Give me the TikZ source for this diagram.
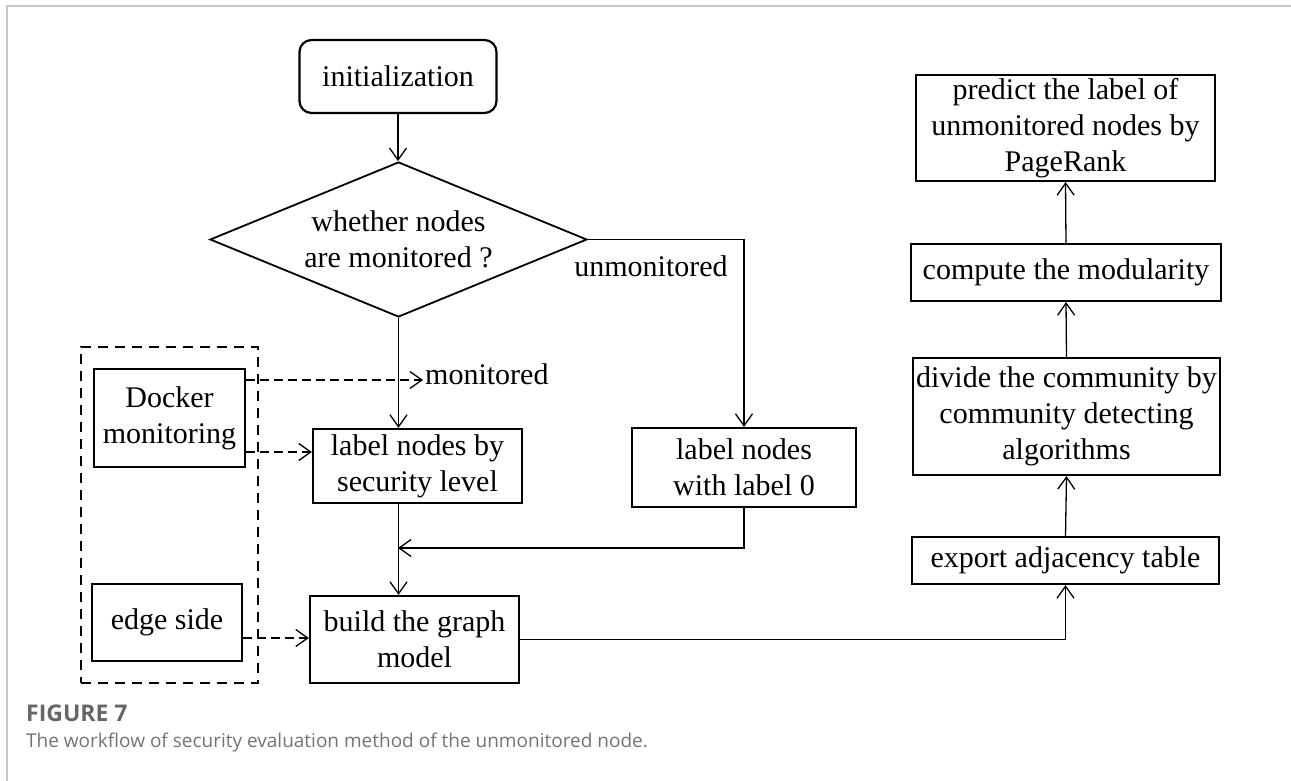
\documentclass[tikz,border=0pt]{standalone}
\usepackage{fontspec}
\setmainfont{Liberation Serif}
\newfontfamily\capfont{Open Sans}
\usetikzlibrary{arrows.meta,shapes.geometric}

\begin{document}
\begin{tikzpicture}[x=1pt,y=-1pt,
  txt/.style={font=\fontsize{30}{36}\selectfont, align=center},
  box/.style={txt, draw, line width=2.2pt, inner sep=1pt},
  flow/.style={line width=1.3pt, -{Straight Barb[length=12pt,width=17pt,line width=1.3pt]}},
  dflow/.style={flow, dash pattern=on 9pt off 5pt},
  grp/.style={draw, line width=2.4pt, dash pattern=on 10pt off 7pt, inner sep=0pt},
  frame/.style={draw=black!22, line width=2pt}
]
\useasboundingbox (0,0) rectangle (1291,781);
\draw[frame] (1291,6) -- (7,6) -- (7,781);

% left-hand flow
\node[box, rounded corners=12pt, minimum width=197pt, minimum height=73pt] (init) at (398,76.5) {initialization};
\node[txt, draw, diamond, aspect=2.43, line width=1.8pt, inner sep=0pt,
      minimum width=377pt, minimum height=155pt] (dec) at (398.5,239.5) {whether nodes\\are monitored ?};
\node[box, minimum width=209pt, minimum height=74pt] (sec) at (417.5,466) {label nodes by\\security level};
\node[box, minimum width=224pt, minimum height=79pt] (lab0) at (744,467.5) {label nodes\\with label 0};
\node[box, minimum width=209pt, minimum height=87pt] (build) at (414.5,639.5) {build the graph\\model};

% data sources
\node[grp, minimum width=177pt, minimum height=336pt] (grp) at (169.5,515) {};
\node[box, minimum width=151pt, minimum height=98pt] (docker) at (169.5,418) {Docker\\monitoring};
\node[box, minimum width=150pt, minimum height=77pt] (edge) at (167,622.5) {edge side};

% right-hand flow
\node[box, minimum width=307pt, minimum height=47pt] (export) at (1065.5,560.5) {export adjacency table};
\node[box, minimum width=307pt, minimum height=117pt] (divide) at (1066.5,416.5) {divide the community by\\community detecting\\algorithms};
\node[box, minimum width=310pt, minimum height=57pt] (compute) at (1066,272.5) {compute the modularity};
\node[box, minimum width=299pt, minimum height=106pt] (predict) at (1065.5,128) {predict the label of\\unmonitored nodes by\\PageRank};

% branch labels
\node[txt, inner sep=0pt] (unmon) at (651,266) {unmonitored};
\coordinate (montip) at (423,380);
\node[txt, inner sep=0pt, anchor=west] (montext) at (425,374) {monitored};
\coordinate (join) at (398,548);

% connectors
\draw[flow] (init.south) -- (init.south |- dec.north);
\draw[flow] (dec.south) -- (dec.south |- sec.north);
\draw[flow] (dec.east) -| (lab0.north);
\draw[flow] (dec.south |- sec.south) -- (dec.south |- build.north);
\draw[flow] (lab0.south) |- (join);
\draw[flow] (build.east) -| (export.south);
\draw[flow] (export.north) -- (divide.south);
\draw[flow] (divide.north) -- (compute.south);
\draw[flow] (compute.north) -- (predict.south);

\draw[dflow] (docker.east |- montip) -- (montip);
\draw[dflow] (docker.east |- 0,452) -- (sec.west |- 0,452);
\draw[dflow] (edge.east |- 0,638) -- (build.west |- 0,638);

% caption
\node[anchor=base west, inner sep=0pt, text=black!60,
      font=\capfont\bfseries\fontsize{23}{26}\selectfont] (fig) at (26,721) {FIGURE 7};
\node[anchor=base west, inner sep=0pt, text=black!55,
      font=\capfont\fontsize{19}{22}\selectfont] (cap) at (26,747) {The workflow of security evaluation method of the unmonitored node.};
\end{tikzpicture}
\end{document}
